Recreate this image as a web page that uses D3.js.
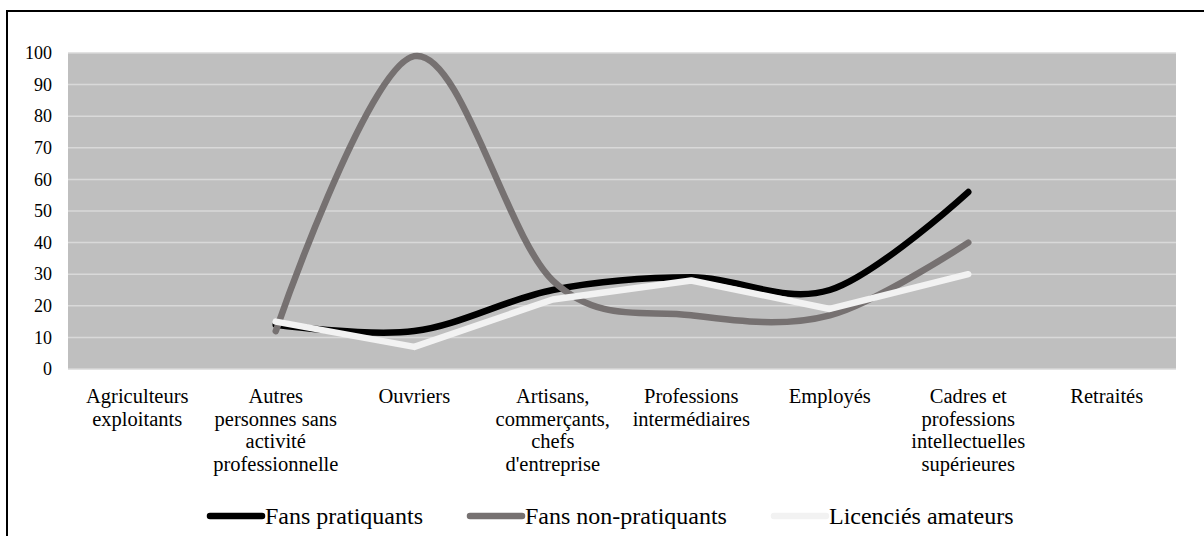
<!DOCTYPE html>
<html>
<head>
<meta charset="utf-8">
<script src="https://cdn.jsdelivr.net/npm/d3@7"></script>
<style>
  html, body { margin: 0; padding: 0; background: #ffffff; }
  svg { display: block; }
</style>
</head>
<body>
<svg id="chart" width="1204" height="536" font-family="Liberation Serif"></svg>
<script>
// ---- data ----
const categories = [
  "Agriculteurs exploitants",
  "Autres personnes sans activité professionnelle",
  "Ouvriers",
  "Artisans, commerçants, chefs d'entreprise",
  "Professions intermédiaires",
  "Employés",
  "Cadres et professions intellectuelles supérieures",
  "Retraités"
];
const seriesNames = ["Fans pratiquants", "Fans non-pratiquants", "Licenciés amateurs"];
const fansPratiquants    = [null, 14, 12, 25, 29, 25, 56, null];
const fansNonPratiquants = [null, 12, 99, 28, 17, 17, 40, null];
const licenciesAmateurs  = [null, 15, 7, 22, 28, 19, 30, null];
const yTicks = [0, 10, 20, 30, 40, 50, 60, 70, 80, 90, 100];

const FONT = '"Liberation Serif", monospace';

// ---- Excel-like smoothing curve ----
function ExcelSmooth(context) { this._context = context; }
ExcelSmooth.prototype = {
  areaStart() {}, areaEnd() {},
  lineStart() { this._pts = []; },
  point(x, y) { this._pts.push([+x, +y]); },
  lineEnd() {
    const p = this._pts, c = this._context, n = p.length;
    if (!n) return;
    c.moveTo(p[0][0], p[0][1]);
    if (n === 1) return;
    const dist = (a, b) => Math.hypot(a[0] - b[0], a[1] - b[1]);
    const ctrl = (a, b, d, sign) => {
      const d01 = dist(a, b), d12 = dist(b, d), d02 = dist(a, d);
      if (d02 === 0) return b;
      let f = 1 / 6;
      if (!(d02 / 6 < d12 / 2 && d02 / 6 < d01 / 2)) f = Math.min(d01, d12) / (2 * d02);
      return [b[0] + sign * f * (d[0] - a[0]), b[1] + sign * f * (d[1] - a[1])];
    };
    for (let i = 0; i < n - 1; i++) {
      const p0 = p[i - 1] || p[i], p1 = p[i], p2 = p[i + 1], p3 = p[i + 2] || p[i + 1];
      const c1 = ctrl(p0, p1, p2, 1);
      const c2 = ctrl(p1, p2, p3, -1);
      c.bezierCurveTo(c1[0], c1[1], c2[0], c2[1], p2[0], p2[1]);
    }
  }
};
const curveExcel = ctx => new ExcelSmooth(ctx);

// ---- layout ----
const svg = d3.select("#chart");
const plot = { left: 68, right: 1176, top: 53, bottom: 369 };

const x = d3.scaleBand().domain(categories).range([plot.left, plot.right]).padding(0);
const y = d3.scaleLinear().domain([0, 100]).range([plot.bottom, plot.top]);

// outer frame
svg.append("rect")
  .attr("x", 7).attr("y", 11).attr("width", 1240).attr("height", 700)
  .attr("fill", "none").attr("stroke", "#000").attr("stroke-width", 2);

// plot background
svg.append("rect")
  .attr("x", plot.left).attr("y", plot.top)
  .attr("width", plot.right - plot.left).attr("height", plot.bottom - plot.top)
  .attr("fill", "#bfbfbf");

// gridlines
svg.append("g").selectAll("line").data(yTicks).join("line")
  .attr("x1", plot.left).attr("x2", plot.right)
  .attr("y1", d => y(d)).attr("y2", d => y(d))
  .attr("stroke", "#d9d9d9").attr("stroke-width", 1.5);

// y axis labels
const yAxis = d3.axisLeft(y).tickValues(yTicks).tickSize(0).tickPadding(16);
const gy = svg.append("g").attr("transform", `translate(${plot.left},0)`).call(yAxis);
gy.attr("font-family", "Liberation Serif").attr("font-size", 18);
gy.select(".domain").remove();
gy.selectAll("text")
  .style("font-family", FONT)
  .style("font-size", "18px").attr("fill", "#000");

// x axis labels (wrapped)
const xAxis = d3.axisBottom(x).tickSize(0).tickPadding(0);
const gx = svg.append("g").attr("transform", `translate(0,${plot.bottom})`).call(xAxis);
const catFont = 20.5, lineH = 22.5, wrapW = 130;
gx.attr("font-family", "Liberation Serif").attr("font-size", catFont);
gx.select(".domain").remove();
gx.selectAll("text")
  .style("font-family", FONT)
  .style("font-size", catFont + "px").attr("fill", "#000")
  .attr("dy", null).attr("y", 0)
  .each(function(d) {
    const t = d3.select(this);
    const words = d.split(" ");
    t.text(null);
    let line = [], lines = [];
    const tmp = t.append("tspan");
    words.forEach(w => {
      line.push(w);
      tmp.text(line.join(" "));
      if (tmp.node().getComputedTextLength() > wrapW && line.length > 1) {
        line.pop();
        lines.push(line.join(" "));
        line = [w];
      }
    });
    lines.push(line.join(" "));
    tmp.remove();
    lines.forEach((l, i) => {
      t.append("tspan").attr("x", 0).attr("y", 34 + i * lineH).text(l);
    });
  });

// lines
const seriesData = [
  { name: seriesNames[0], values: fansPratiquants,    color: "#000000", smooth: true },
  { name: seriesNames[1], values: fansNonPratiquants, color: "#767171", smooth: true },
  { name: seriesNames[2], values: licenciesAmateurs,  color: "#f2f2f2", smooth: false }
];
seriesData.forEach(s => {
  const line = d3.line()
    .defined(d => d.v != null)
    .x(d => x(d.c) + x.bandwidth() / 2)
    .y(d => y(d.v))
    .curve(s.smooth ? curveExcel : d3.curveLinear);
  svg.append("path")
    .datum(categories.map((c, i) => ({ c, v: s.values[i] })))
    .attr("d", line)
    .attr("fill", "none")
    .attr("stroke", s.color)
    .attr("stroke-width", 6.5)
    .attr("stroke-linecap", "round")
    .attr("stroke-linejoin", "round");
});

// legend
const legendFont = 24;
const legendY = 516;
const legend = svg.append("g");
let lx = 210;
seriesData.forEach(s => {
  const g = legend.append("g");
  g.append("line")
    .attr("x1", lx).attr("x2", lx + 52)
    .attr("y1", legendY).attr("y2", legendY)
    .attr("stroke", s.color).attr("stroke-width", 6.5).attr("stroke-linecap", "round");
  const t = g.append("text")
    .attr("x", lx + 55).attr("y", legendY).attr("dy", "0.33em")
    .style("font-family", FONT)
    .style("font-size", legendFont + "px")
    .text(s.name);
  lx += 55 + t.node().getComputedTextLength() + 47;
});
</script>
</body>
</html>
